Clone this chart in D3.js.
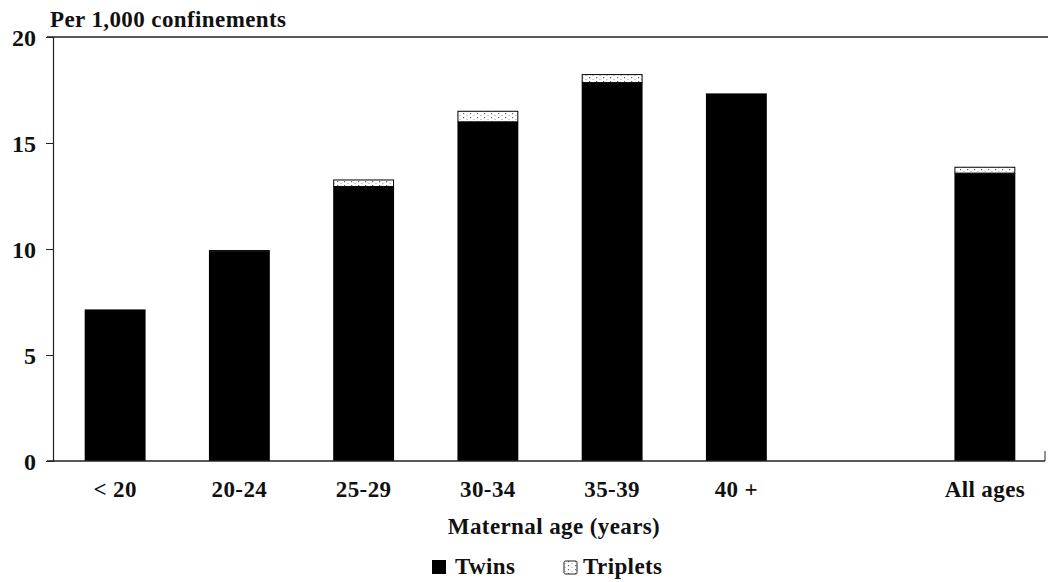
<!DOCTYPE html>
<html>
<head>
<meta charset="utf-8">
<script src="https://cdn.jsdelivr.net/npm/d3@7"></script>
<style>
  body { margin: 0; background: #fff; }
  text { font-family: "Liberation Serif", "DejaVu Serif", serif; font-weight: bold; fill: #111; letter-spacing: 0.4px; }
</style>
</head>
<body>
<svg></svg>
<script>
var width = 1048;
var height = 582;

// values (per 1,000 confinements)
var ageGroups = ["< 20", "20-24", "25-29", "30-34", "35-39", "40 +", "All ages"];
var twins = [7.15, 9.9, 12.95, 16.0, 17.85, 17.34, 13.58];
var triplets = [0.0, 0.05, 0.33, 0.52, 0.4, 0.0, 0.3];
var yTicks = [0, 5, 10, 15, 20];

var svg = d3.select("svg")
            .attr("width", width)
            .attr("height", height);

var mLeft = 53, mRight = 1047, mTop = 37, mBottom = 461;

// empty slot between "40 +" and "All ages"
var slots = ageGroups.slice(0, 6).concat(["gap"], ageGroups.slice(6));

var x = d3.scaleBand()
          .domain(slots)
          .range([mLeft, mRight])
          .paddingInner(0.51)
          .paddingOuter(0.255);

var y = d3.scaleLinear()
          .domain([0, 20])
          .range([mBottom, mTop]);

// dotted fill for triplets
var defs = svg.append("defs");
var pat = defs.append("pattern")
              .attr("id", "dots")
              .attr("width", 7).attr("height", 4)
              .attr("patternUnits", "userSpaceOnUse");
pat.append("rect").attr("width", 7).attr("height", 4).attr("fill", "#fff");
pat.append("rect").attr("x", 1).attr("y", 1).attr("width", 1.2).attr("height", 1.2).attr("fill", "#666");
pat.append("rect").attr("x", 4.5).attr("y", 3).attr("width", 1).attr("height", 1).attr("fill", "#999");

var data = ageGroups.map(function(g, i) {
  return { group: g, twins: twins[i], triplets: triplets[i] };
});

// twins bars
svg.append("g")
   .selectAll("rect")
   .data(data)
   .enter()
   .append("rect")
   .attr("x", d => x(d.group))
   .attr("width", x.bandwidth())
   .attr("y", d => y(d.twins))
   .attr("height", d => y(0) - y(d.twins))
   .attr("fill", "#000");

// triplets stacked on top
svg.append("g")
   .selectAll("rect")
   .data(data.filter(d => d.triplets > 0))
   .enter()
   .append("rect")
   .attr("x", d => x(d.group) + 0.5)
   .attr("width", x.bandwidth() - 1)
   .attr("y", d => y(d.twins + d.triplets) + 0.5)
   .attr("height", d => Math.max(0, y(d.twins) - y(d.twins + d.triplets) - 0.5))
   .attr("fill", "url(#dots)")
   .attr("stroke", "#000")
   .attr("stroke-width", 1);

// y axis
var yAxis = d3.axisLeft(y)
              .tickValues(yTicks)
              .tickSize(7)
              .tickFormat(d3.format("d"));

var gy = svg.append("g")
            .attr("transform", "translate(" + mLeft + ",0)")
            .call(yAxis);
gy.select(".domain").attr("stroke", "#222").attr("stroke-width", 1.2);
gy.selectAll(".tick line").attr("stroke", "#222");
gy.selectAll(".tick text")
  .attr("x", -17)
  .attr("dy", "0.34em")
  .style("font-size", "24px")
  .style("font-family", "Liberation Serif, serif")
  .style("font-weight", "bold")
  .style("letter-spacing", "0px")
  .attr("fill", "#111");

// top line at 20 and baseline
svg.append("line")
   .attr("x1", mLeft - 6).attr("x2", width)
   .attr("y1", y(20)).attr("y2", y(20))
   .attr("stroke", "#222").attr("stroke-width", 1.3);

svg.append("line")
   .attr("x1", mLeft - 6).attr("x2", 1045)
   .attr("y1", y(0)).attr("y2", y(0))
   .attr("stroke", "#222").attr("stroke-width", 1.3);

svg.append("line")
   .attr("x1", 1045).attr("x2", 1045)
   .attr("y1", y(0)).attr("y2", y(0) - 10)
   .attr("stroke", "#222").attr("stroke-width", 1);

// x category labels
svg.append("g")
   .selectAll("text")
   .data(ageGroups)
   .enter()
   .append("text")
   .attr("x", d => x(d) + x.bandwidth() / 2)
   .attr("y", 497)
   .attr("text-anchor", "middle")
   .style("font-size", "23px")
   .text(d => d);

// titles
svg.append("text")
   .attr("x", 50).attr("y", 27)
   .style("font-size", "23px")
   .text("Per 1,000 confinements");

svg.append("text")
   .attr("x", 554).attr("y", 534)
   .attr("text-anchor", "middle")
   .style("font-size", "23px")
   .text("Maternal age (years)");

// legend
var legend = svg.append("g");
legend.append("rect")
      .attr("x", 432).attr("y", 560).attr("width", 14).attr("height", 14)
      .attr("fill", "#000");
legend.append("text")
      .attr("x", 455).attr("y", 574)
      .style("font-size", "23px")
      .text("Twins");
legend.append("rect")
      .attr("x", 564).attr("y", 561).attr("width", 13).attr("height", 13)
      .attr("rx", 1.5)
      .attr("fill", "url(#dots)")
      .attr("stroke", "#222").attr("stroke-width", 1);
legend.append("text")
      .attr("x", 583).attr("y", 574)
      .style("font-size", "23px")
      .text("Triplets");
</script>
</body>
</html>
